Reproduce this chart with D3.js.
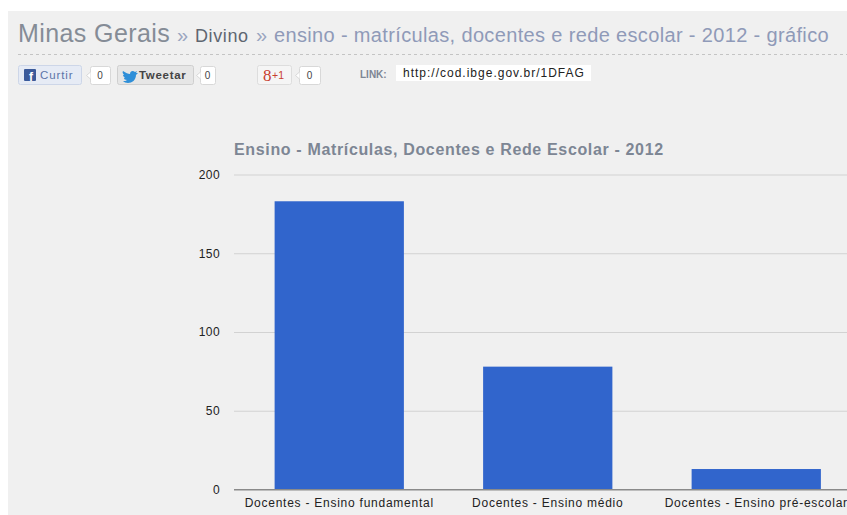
<!DOCTYPE html>
<html>
<head>
<title>Ensino - Divino</title>
<meta charset="utf-8">
<style>
  html, body { margin: 0; padding: 0; background: #fff; overflow: hidden; }
  svg { display: block; font-family: "Liberation Sans", Arial, sans-serif; }
</style>
</head>
<body>
<svg width="847" height="515"></svg>
<script src="https://d3js.org/d3.v7.min.js"></script>
<script>
var categories = ['Docentes - Ensino fundamental', 'Docentes - Ensino médio', 'Docentes - Ensino pré-escolar']
var values = [183, 78, 13]
var yTicks = [0, 50, 100, 150, 200]
var chartTitle = 'Ensino - Matrículas, Docentes e Rede Escolar - 2012'
var linkUrl = 'http://cod.ibge.gov.br/1DFAG'

var svg = d3.select('svg')

// page background
svg.append('rect').attr('x', 8).attr('y', 11).attr('width', 839).attr('height', 504).attr('fill', '#f0f0f0')

// breadcrumb
function crumb(x, label, size, fill, spacing) {
  svg.append('text').attr('x', x).attr('y', 42).attr('font-size', size).attr('fill', fill)
    .attr('letter-spacing', spacing).text(label)
}
crumb(18, 'Minas Gerais', 25, '#858c96', 0.4)
crumb(177, '»', 20, '#9aa5c0', 0)
crumb(195, 'Divino', 18, '#5f6670', 0.6)
crumb(256, '»', 20, '#9aa5c0', 0)
crumb(274, 'ensino - matrículas, docentes e rede escolar - 2012 - gráfico', 20, '#8f9ab8', 0.35)

svg.append('line').attr('x1', 18).attr('x2', 847).attr('y1', 54.5).attr('y2', 54.5)
  .attr('stroke', '#c4c4c4').attr('stroke-dasharray', '3,3')

// social buttons
function button(x, w, fill, stroke) {
  svg.append('rect').attr('x', x + 0.5).attr('y', 65.5).attr('width', w).attr('height', 19).attr('rx', 2)
    .attr('fill', fill).attr('stroke', stroke)
}
function counter(x, w, label) {
  svg.append('rect').attr('x', x + 0.5).attr('y', 66.5).attr('width', w).attr('height', 18).attr('rx', 2)
    .attr('fill', '#fff').attr('stroke', '#d8d8d8')
  svg.append('path').attr('d', d3.line()([[x + 0.5, 72], [x - 3.5, 75.5], [x + 0.5, 79]]))
    .attr('fill', '#fff').attr('stroke', '#d8d8d8')
  svg.append('text').attr('x', x + w / 2).attr('y', 79).attr('text-anchor', 'middle')
    .attr('font-size', 10).attr('fill', '#444').text(label)
}
button(18, 63, '#e6ebf5', '#cdd6e8')
svg.append('rect').attr('x', 24).attr('y', 69).attr('width', 12).attr('height', 12).attr('rx', 1).attr('fill', '#3b5a9a')
svg.append('text').attr('x', 31).attr('y', 81).attr('text-anchor', 'middle').attr('font-size', 12)
  .attr('font-weight', 'bold').attr('fill', '#fff').text('f')
svg.append('text').attr('x', 40).attr('y', 79).attr('font-size', 11.5).attr('letter-spacing', 0.9)
  .attr('fill', '#5c74a8').text('Curtir')
counter(90, 20, '0')

button(117, 76, '#e6e6e6', '#cfcfcf')
// twitter bird, drawn roughly
svg.append('path').attr('fill', '#2f8fd8')
  .attr('d', 'M123 71c3 2 5 3 7 3 0-3 3-4 5-2l2-1-1 2 2 0-2 2c0 5-4 8-8 8-2 0-4-1-5-2 2 0 3 0 4-1-2 0-3-1-3-2l1 0c-1-1-2-2-2-3l1 0c-1-1-2-3-1-4z')
svg.append('text').attr('x', 139).attr('y', 79).attr('font-size', 11.5).attr('font-weight', 'bold')
  .attr('letter-spacing', 0.7).attr('fill', '#444').text('Tweetar')
counter(200, 15, '0')

button(257, 34, '#f5f5f5', '#ddd')
svg.append('text').attr('x', 263).attr('y', 81).attr('font-size', 17)
  .attr('font-family', '"Liberation Serif", serif').attr('fill', '#c8402f').text('8')
svg.append('text').attr('x', 272).attr('y', 79).attr('font-size', 10.5)
  .attr('fill', '#c8402f').text('+1')
counter(299, 21, '0')

svg.append('text').attr('x', 360).attr('y', 78).attr('font-size', 10).attr('font-weight', 'bold')
  .attr('fill', '#7d8694').text('LINK:')
svg.append('rect').attr('x', 396).attr('y', 65).attr('width', 195).attr('height', 16).attr('fill', '#fff')
svg.append('text').attr('x', 403).attr('y', 77).attr('font-size', 12).attr('letter-spacing', 1.0)
  .attr('fill', '#222').text(linkUrl)

// chart
svg.append('text').attr('x', 234).attr('y', 155).attr('font-size', 16).attr('font-weight', 'bold')
  .attr('letter-spacing', 0.65).attr('fill', '#7d8694').text(chartTitle)

var x = d3.scaleBand().domain(categories).range([235, 860.5]).paddingInner(0.38).paddingOuter(0.19)
var y = d3.scaleLinear().domain([0, 200]).range([489.5, 174.5])

var yAxis = svg.append('g').attr('transform', 'translate(234,0)')
  .call(d3.axisLeft(y).tickValues(yTicks).tickSize(-613).tickPadding(14))
yAxis.select('.domain').remove()
yAxis.selectAll('line').attr('stroke', function (d) { return d === 0 ? '#8a8a8a' : '#d2d2d2' })
yAxis.selectAll('text').attr('font-size', 12).attr('font-family', 'inherit').attr('fill', '#222')
  .attr('letter-spacing', 0.4)

svg.selectAll('rect.bar').data(values).enter().append('rect').attr('class', 'bar')
  .attr('x', function (d, i) { return x(categories[i]) })
  .attr('y', function (d) { return y(d) })
  .attr('width', x.bandwidth())
  .attr('height', function (d) { return y(0) - y(d) })
  .attr('fill', '#3165cc')

svg.append('line').attr('x1', 234).attr('x2', 847).attr('y1', 489.5).attr('y2', 489.5).attr('stroke', '#8a8a8a')

var xAxis = svg.append('g').attr('transform', 'translate(0,489.5)')
  .call(d3.axisBottom(x).tickSize(0).tickPadding(9))
xAxis.select('.domain').remove()
xAxis.selectAll('text').attr('font-size', 12).attr('font-family', 'inherit').attr('fill', '#222')
  .attr('letter-spacing', 0.75)
</script>
</body>
</html>
